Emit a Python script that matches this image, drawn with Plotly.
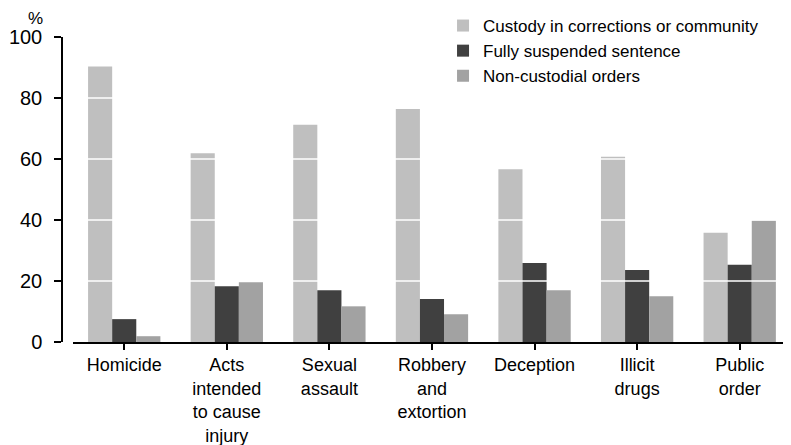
import plotly.graph_objects as go

categories = [
    "Homicide",
    "Acts<br>intended<br>to cause<br>injury",
    "Sexual<br>assault",
    "Robbery<br>and<br>extortion",
    "Deception",
    "Illicit<br>drugs",
    "Public<br>order",
]
custody = [90.3, 61.9, 71.2, 76.4, 56.6, 60.7, 35.8]
suspended = [7.5, 18.3, 17.0, 14.1, 25.9, 23.6, 25.3]
non_custodial = [1.9, 19.6, 11.7, 9.1, 17.0, 15.0, 39.8]
y_ticks = [0, 20, 40, 60, 80, 100]

FONT = "Liberation Sans, Arial, sans-serif"

fig = go.Figure()

series = [
    ("Custody in corrections or community", custody, "#bfbfbf"),
    ("Fully suspended sentence", suspended, "#404040"),
    ("Non-custodial orders", non_custodial, "#a2a2a2"),
]
for name, values, colour in series:
    fig.add_trace(
        go.Bar(
            x=categories,
            y=values,
            name=name,
            marker_color=colour,
            marker_line_width=0,
        )
    )

# white gridlines drawn over the bars
for t in y_ticks[1:-1]:
    fig.add_shape(
        type="line",
        xref="x domain",
        yref="y",
        x0=0,
        x1=1,
        y0=t,
        y1=t,
        line=dict(color="white", width=1.5),
        layer="above",
    )

fig.add_annotation(
    text="%",
    xref="paper",
    yref="paper",
    x=-0.037,
    y=1.062,
    xanchor="center",
    yanchor="middle",
    showarrow=False,
    font=dict(size=17, color="black", family=FONT),
)

# page body has an 8px margin, so the figure is sized to fit the window
fig.update_layout(
    width=783,
    height=437,
    template="plotly_white",
    plot_bgcolor="white",
    paper_bgcolor="white",
    font=dict(family=FONT, size=18, color="black"),
    barmode="group",
    bargap=0.295,
    bargroupgap=0,
    margin=dict(l=54, r=0, t=29, b=103, autoexpand=False),
    legend=dict(
        xref="container",
        yref="container",
        x=0.5556,
        y=1.0,
        xanchor="left",
        yanchor="top",
        font=dict(size=17),
        bgcolor="rgba(0,0,0,0)",
        itemwidth=30,
        tracegroupgap=0,
    ),
    xaxis=dict(
        domain=[0.015, 1],
        showgrid=False,
        showline=True,
        linecolor="black",
        linewidth=1.5,
        ticks="outside",
        ticklen=6,
        tickwidth=1.5,
        tickcolor="black",
        tickfont=dict(size=18),
        automargin=False,
    ),
    yaxis=dict(
        anchor="free",
        position=0,
        range=[0, 100],
        tickvals=y_ticks,
        showgrid=False,
        zeroline=False,
        showline=True,
        linecolor="black",
        linewidth=1.5,
        ticks="outside",
        ticklen=7,
        tickwidth=1.5,
        tickcolor="black",
        tickfont=dict(size=20),
        ticklabelstandoff=8,
        automargin=False,
    ),
)

fig.write_html("out.html")
